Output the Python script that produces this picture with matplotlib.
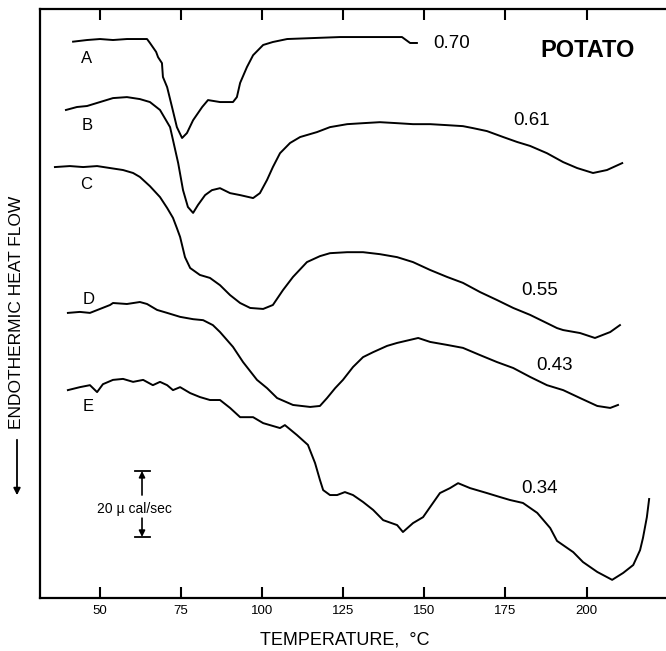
import matplotlib
matplotlib.use("Agg")
import matplotlib.pyplot as plt

plt.rcParams['font.family'] = ['Liberation Sans', 'DejaVu Sans']

# ---- data (temperature in C, heat flow in offset units of µcal/sec) ----
A_T = [41.7, 46.0, 50.0, 54.0, 58.3, 62.3, 64.5, 65.4, 67.3, 67.9, 69.1, 69.4, 70.7,
       72.2, 73.7, 75.3, 76.8, 78.7, 81.5, 83.3, 87.0, 91.0, 92.2, 93.2, 95.3, 97.2,
       100.3, 103.3, 107.7, 124.0, 143.1, 145.6, 147.7]
A_Y = [168.6, 169.1, 169.4, 169.1, 169.4, 169.4, 169.4, 168.2, 165.5, 163.9, 162.1,
       157.9, 154.8, 148.8, 142.7, 139.4, 140.9, 144.8, 148.8, 150.9, 150.3, 150.3,
       151.8, 156.1, 160.9, 164.5, 167.6, 168.5, 169.4, 170.0, 170.0, 168.2, 168.2]

B_T = [39.5, 42.9, 46.0, 50.0, 54.0, 58.3, 62.3, 65.4, 68.5, 71.6, 72.5, 74.1, 75.6,
       77.1, 78.7, 80.2, 82.4, 84.5, 87.0, 90.1, 93.2, 97.2, 99.3, 101.5, 103.3,
       105.5, 108.6, 111.7, 116.9, 120.9, 126.2, 131.1, 136.3, 141.6, 146.5, 151.8,
       157.0, 161.9, 165.0, 169.3, 174.3, 178.6, 182.6, 187.8, 192.8, 197.1, 202.0,
       206.3, 211.0]
B_Y = [147.9, 148.8, 149.1, 150.3, 151.5, 151.8, 151.2, 150.3, 147.9, 142.7, 138.8,
       131.8, 123.6, 118.5, 116.7, 119.1, 122.1, 123.6, 124.2, 122.7, 122.1, 121.2,
       122.7, 126.7, 130.6, 134.8, 137.9, 139.7, 141.2, 142.7, 143.6, 143.9, 144.2,
       143.9, 143.6, 143.6, 143.3, 143.0, 142.4, 141.5, 139.7, 138.2, 137.0, 134.8,
       132.1, 130.3, 128.8, 129.7, 131.8]

C_T = [36.1, 40.7, 44.8, 49.1, 53.1, 57.1, 60.2, 62.3, 65.4, 68.5, 70.7, 72.5, 73.7,
       74.7, 76.2, 77.8, 80.8, 83.9, 87.0, 90.1, 93.2, 96.3, 100.3, 103.3, 106.4,
       109.5, 113.8, 117.8, 120.9, 126.2, 131.1, 136.3, 141.6, 146.5, 151.8, 157.0,
       161.9, 167.2, 172.4, 177.4, 182.6, 187.8, 190.9, 192.8, 198.0, 202.6, 207.3,
       210.3]
C_Y = [130.6, 130.9, 130.6, 130.9, 130.3, 129.7, 128.8, 127.6, 124.8, 121.5, 118.2,
       115.2, 112.1, 109.4, 103.3, 100.0, 97.9, 97.0, 94.8, 91.8, 89.4, 87.9, 87.6,
       88.8, 93.3, 97.3, 101.8, 103.6, 104.5, 104.8, 104.8, 104.2, 103.3, 101.8, 99.4,
       97.3, 95.5, 92.7, 90.3, 87.9, 85.8, 83.3, 81.8, 81.2, 80.3, 78.8, 80.6, 82.7]

D_T = [40.1, 43.8, 46.9, 50.0, 53.1, 54.0, 58.3, 62.3, 64.5, 67.6, 70.7, 74.7, 78.7,
       81.8, 84.8, 87.0, 91.0, 94.1, 98.4, 101.5, 104.6, 109.5, 114.8, 117.8, 120.0,
       122.5, 124.9, 128.0, 131.1, 134.2, 138.5, 141.6, 148.1, 151.8, 157.0, 161.9,
       167.2, 172.4, 177.4, 182.6, 187.8, 192.8, 198.0, 203.3, 207.3, 209.7]
D_Y = [86.4, 86.7, 86.4, 87.6, 88.8, 89.4, 89.1, 89.7, 89.1, 87.3, 86.4, 85.2, 84.5,
       84.2, 82.7, 80.6, 76.1, 71.5, 66.1, 63.6, 60.6, 58.5, 57.9, 58.2, 60.6, 63.6,
       66.1, 70.0, 73.0, 74.5, 76.4, 77.3, 78.8, 77.6, 76.7, 75.8, 73.6, 71.5, 69.7,
       67.0, 64.5, 63.0, 60.6, 58.2, 57.6, 58.5]

E_T = [40.1, 43.8, 46.9, 49.1, 50.9, 54.0, 57.1, 60.2, 63.3, 66.3, 68.5, 70.7, 72.5,
       74.7, 77.8, 80.8, 83.9, 87.0, 90.1, 93.2, 97.2, 100.3, 105.5, 107.0, 110.7,
       114.1, 116.3, 117.8, 118.8, 120.9, 123.1, 125.5, 128.0, 131.1, 134.2, 137.3,
       141.6, 143.4, 146.5, 149.6, 151.8, 154.8, 157.9, 160.4, 164.1, 169.3, 173.3,
       176.4, 180.4, 184.8, 188.8, 190.9, 195.9, 198.9, 203.3, 207.9, 211.3, 214.4,
       216.5, 217.4, 218.6, 219.3]
E_Y = [63.0, 63.9, 64.5, 62.4, 64.8, 66.1, 66.4, 65.5, 66.1, 64.5, 65.5, 64.5, 63.0,
       63.9, 62.1, 60.9, 60.0, 60.0, 57.6, 54.8, 54.8, 53.0, 51.5, 52.4, 49.4, 46.4,
       40.9, 35.8, 32.7, 31.2, 31.2, 32.1, 31.2, 29.1, 26.7, 23.6, 22.1, 20.0, 22.7,
       24.5, 27.6, 31.8, 33.3, 34.8, 33.3, 31.8, 30.6, 29.7, 28.8, 25.8, 21.2, 17.3,
       13.9, 10.9, 7.9, 5.5, 7.6, 10.0, 14.5, 18.2, 24.5, 30.0]

curve_letters = ['A', 'B', 'C', 'D', 'E']
water_fractions = ['0.70', '0.61', '0.55', '0.43', '0.34']
x_ticks = [50, 75, 100, 125, 150, 175, 200]

# ---- figure ----
fig = plt.figure(figsize=(6.66, 6.51), dpi=100)
ax = fig.add_axes([40 / 666, 1 - 598 / 651, 626 / 666, 589 / 651])

for T, Y in [(A_T, A_Y), (B_T, B_Y), (C_T, C_Y), (D_T, D_Y), (E_T, E_Y)]:
    ax.plot(T, Y, color='black', lw=1.4, solid_joinstyle='round')

ax.set_xlim(31.5, 224.5)
ax.set_ylim(0, 178.5)

ax.spines['right'].set_visible(False)
for s in ['left', 'top', 'bottom']:
    ax.spines[s].set_linewidth(1.6)

ax.set_xticks(x_ticks)
ax.set_xticklabels([str(t) for t in x_ticks], fontsize=9.5)
ax.tick_params(axis='x', direction='in', length=8, width=1.5, top=True,
               labeltop=False, pad=5)
ax.set_yticks([])

letter_pos = [(46.0, 163.5), (46.1, 143.2), (45.7, 125.2), (46.6, 90.6), (46.3, 57.9)]
for lab, (x, y) in zip(curve_letters, letter_pos):
    ax.text(x, y, lab, fontsize=12, ha='center', va='center')

frac_pos = [(158.5, 167.9), (182.9, 144.8), (185.4, 93.3), (190.0, 70.6), (185.4, 33.3)]
for lab, (x, y) in zip(water_fractions, frac_pos):
    ax.text(x, y, lab, fontsize=13.5, ha='center', va='center')

ax.text(200.2, 165.9, 'POTATO', fontsize=17, fontweight='bold', ha='center', va='center')

# scale bar 20 µcal/sec
sx = 62.95
ax.plot([60.8, 65.4], [38.5, 38.5], color='black', lw=1.3)
ax.plot([60.8, 65.4], [18.5, 18.5], color='black', lw=1.3)
ax.annotate('', xy=(sx, 38.5), xytext=(sx, 31.2),
            arrowprops=dict(arrowstyle='-|>', color='black', lw=1.2,
                            mutation_scale=9, shrinkA=0, shrinkB=0))
ax.annotate('', xy=(sx, 18.5), xytext=(sx, 24.2),
            arrowprops=dict(arrowstyle='-|>', color='black', lw=1.2,
                            mutation_scale=9, shrinkA=0, shrinkB=0))
ax.text(60.6, 27.0, '20 µ cal/sec', fontsize=10, ha='center', va='center')

# axis labels
fig.text(344.5 / 666, 1 - 640 / 651, 'TEMPERATURE,  °C', fontsize=13,
         ha='center', va='center')
fig.text(17 / 666, 1 - 312 / 651, 'ENDOTHERMIC HEAT FLOW', fontsize=12.5,
         rotation=90, ha='center', va='center')
fig.add_artist(matplotlib.patches.FancyArrowPatch(
    (17 / 666, 1 - 437 / 651), (17 / 666, 1 - 498 / 651),
    transform=fig.transFigure, arrowstyle='-|>', mutation_scale=10,
    color='black', lw=1.3))

fig.savefig('out.png', dpi=100)
